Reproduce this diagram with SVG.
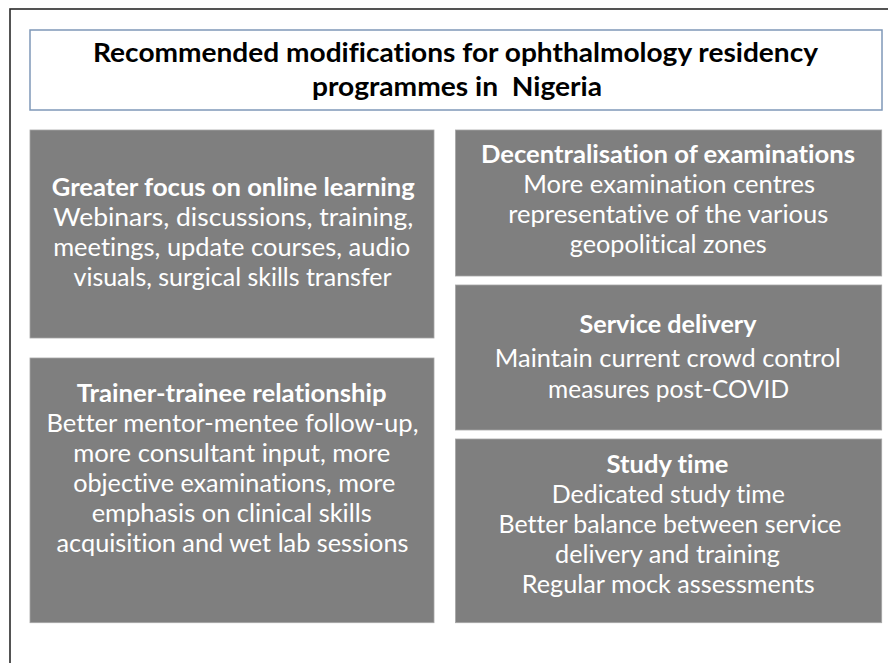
<svg xmlns="http://www.w3.org/2000/svg" width="888" height="663" viewBox="0 0 888 663">
  <style>
    .frame { fill: none; stroke: #2a2a2a; stroke-width: 1.6; }
    .titlebox { fill: #ffffff; stroke: #7f98b8; stroke-width: 1.5; }
    .box { fill: #7f7f7f; stroke: #a6a6a6; stroke-width: 0.8; }
    text { font-variant-ligatures: none; }
    .title { font-family: Lato, "Liberation Sans", sans-serif; font-weight: bold; font-size: 27px; fill: #000000; text-anchor: middle; }
    .head { font-family: Lato, "Liberation Sans", sans-serif; font-weight: bold; font-size: 25px; fill: #ffffff; text-anchor: middle; }
    .body { font-family: Lato, "Liberation Sans", sans-serif; font-size: 25px; fill: #ffffff; text-anchor: middle; }
  </style>

  <rect width="888" height="663" fill="#ffffff"/>
  <!-- outer frame (runs past the right and bottom edges) -->
  <rect class="frame" x="10" y="9" width="900" height="700"/>

  <g id="title">
    <rect class="titlebox" x="30" y="30" width="852" height="80"/>
    <text class="title" x="455.5" y="61.5" textLength="725" lengthAdjust="spacingAndGlyphs">Recommended modifications for ophthalmology residency</text>
    <text class="title" x="457" y="96" textLength="290" lengthAdjust="spacingAndGlyphs" xml:space="preserve">programmes in  Nigeria</text>
  </g>

  <g id="online-learning">
    <rect class="box" x="30" y="130" width="404" height="208"/>
    <text class="head" x="233.3" y="196" textLength="363" lengthAdjust="spacingAndGlyphs">Greater focus on online learning</text>
    <text class="body" x="233.3" y="225.7" textLength="360" lengthAdjust="spacingAndGlyphs">Webinars, discussions, training,</text>
    <text class="body" x="231.7" y="256" textLength="357" lengthAdjust="spacingAndGlyphs">meetings, update courses, audio</text>
    <text class="body" x="232.5" y="286" textLength="318" lengthAdjust="spacingAndGlyphs">visuals, surgical skills transfer</text>
  </g>

  <g id="trainer-trainee">
    <rect class="box" x="30" y="358" width="404" height="264.7"/>
    <text class="head" x="231.7" y="401.7" textLength="310" lengthAdjust="spacingAndGlyphs">Trainer-trainee relationship</text>
    <text class="body" x="232.5" y="431.7" textLength="372" lengthAdjust="spacingAndGlyphs">Better mentor-mentee follow-up,</text>
    <text class="body" x="231.7" y="461.7" textLength="317" lengthAdjust="spacingAndGlyphs">more consultant input, more</text>
    <text class="body" x="234.2" y="491.7" textLength="322" lengthAdjust="spacingAndGlyphs">objective examinations, more</text>
    <text class="body" x="231.7" y="521.7" textLength="280" lengthAdjust="spacingAndGlyphs">emphasis on clinical skills</text>
    <text class="body" x="232.5" y="551.7" textLength="352" lengthAdjust="spacingAndGlyphs">acquisition and wet lab sessions</text>
  </g>

  <g id="decentralisation">
    <rect class="box" x="455.5" y="130" width="426.2" height="146"/>
    <text class="head" x="668" y="163.3" textLength="374" lengthAdjust="spacingAndGlyphs">Decentralisation of examinations</text>
    <text class="body" x="669.2" y="193.3" textLength="292" lengthAdjust="spacingAndGlyphs">More examination centres</text>
    <text class="body" x="668.3" y="223.3" textLength="320" lengthAdjust="spacingAndGlyphs">representative of the various</text>
    <text class="body" x="668.3" y="253.3" textLength="197" lengthAdjust="spacingAndGlyphs">geopolitical zones</text>
  </g>

  <g id="service-delivery">
    <rect class="box" x="455.5" y="285" width="426.2" height="145"/>
    <text class="head" x="668" y="333.3" textLength="177" lengthAdjust="spacingAndGlyphs">Service delivery</text>
    <text class="body" x="667.8" y="366.5" textLength="346" lengthAdjust="spacingAndGlyphs">Maintain current crowd control</text>
    <text class="body" x="668.6" y="398" textLength="241" lengthAdjust="spacingAndGlyphs">measures post-COVID</text>
  </g>

  <g id="study-time">
    <rect class="box" x="455.5" y="439" width="426.2" height="183.7"/>
    <text class="head" x="667.5" y="473.3" textLength="122" lengthAdjust="spacingAndGlyphs">Study time</text>
    <text class="body" x="668.3" y="503.3" textLength="233" lengthAdjust="spacingAndGlyphs">Dedicated study time</text>
    <text class="body" x="670" y="533.3" textLength="343" lengthAdjust="spacingAndGlyphs">Better balance between service</text>
    <text class="body" x="667.5" y="563.3" textLength="225" lengthAdjust="spacingAndGlyphs">delivery and training</text>
    <text class="body" x="668.3" y="593.3" textLength="293" lengthAdjust="spacingAndGlyphs">Regular mock assessments</text>
  </g>

  <!-- no connectors in this layout -->
  <g id="connectors"/>
</svg>
